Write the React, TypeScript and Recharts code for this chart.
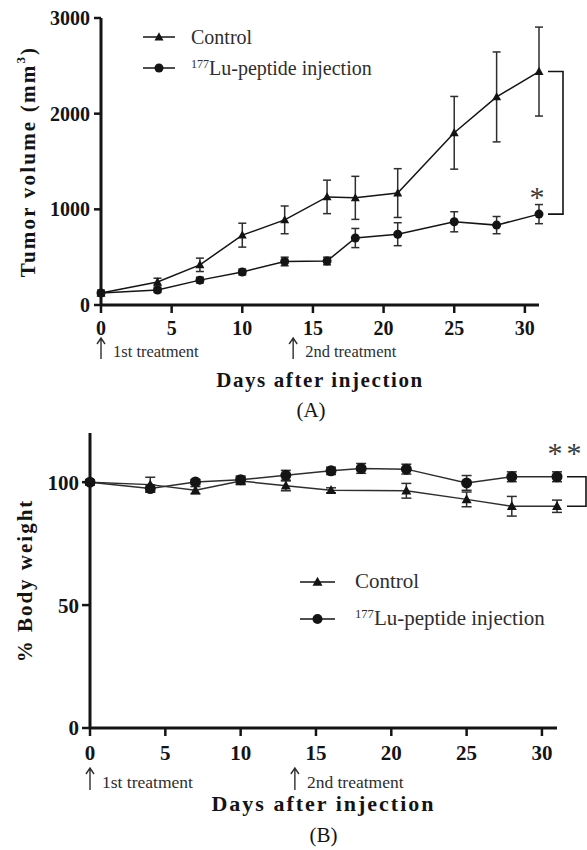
import { LineChart, Line, XAxis, YAxis, ErrorBar, Legend, ReferenceDot, ReferenceLine } from 'recharts'

const FONT = '"Liberation Serif", "Times New Roman", serif'
const INK = '#141414'
const SOFT = '#2e2e2e'

// (A) tumour volume, mm3
const volDays = [0, 4, 7, 10, 13, 16, 18, 21, 25, 28, 31]
const volControl = [125, 240, 420, 730, 890, 1130, 1120, 1170, 1800, 2175, 2440]
const volControlErr = [30, 40, 70, 125, 145, 175, 225, 255, 380, 470, 465]
const volLu = [125, 157, 260, 345, 455, 460, 700, 740, 870, 835, 950]
const volLuErr = [20, 25, 30, 30, 45, 40, 100, 120, 105, 90, 100]
const volTicks = [0, 1000, 2000, 3000]

// (B) % body weight
const bwControlDays = [0, 4, 7, 10, 13, 16, 21, 25, 28, 31]
const bwControl = [100, 99, 96.7, 100.5, 98.5, 96.7, 96.5, 93, 90.2, 90.2]
const bwControlErr = [1, 3, 1.5, 1.5, 2, 1, 3, 3, 4, 2.5]
const bwLuDays = [0, 4, 7, 10, 13, 16, 18, 21, 25, 28, 31]
const bwLu = [100, 97.4, 100.1, 101, 102.8, 104.6, 105.6, 105.3, 99.7, 102.2, 102.2]
const bwLuErr = [1, 1.5, 1, 1.5, 2, 1.5, 2, 2, 3, 2, 2]
const bwTicks = [0, 50, 100]

const dayTicks = [0, 5, 10, 15, 20, 25, 30]
const treatments = [
  { day: 0, label: '1st treatment' },
  { day: 13.6, label: '2nd treatment' },
]

type Row = { day: number; v: number; err: number }
const toRows = (days: number[], vals: number[], errs: number[]): Row[] =>
  days.map((day, i) => ({ day, v: vals[i], err: errs[i] }))

const volControlRows = toRows(volDays, volControl, volControlErr)
const volLuRows = toRows(volDays, volLu, volLuErr)
const bwControlRows = toRows(bwControlDays, bwControl, bwControlErr)
const bwLuRows = toRows(bwLuDays, bwLu, bwLuErr)

function Marker({ kind, cx, cy, size }: { kind: string; cx: number; cy: number; size: number }) {
  if (kind === 'triangle') {
    const h = size / 2
    return (
      <polygon
        points={`${cx},${cy - h * 1.05} ${cx + h},${cy + h * 0.75} ${cx - h},${cy + h * 0.75}`}
        fill={INK}
      />
    )
  }
  return <circle cx={cx} cy={cy} r={size / 2} fill={INK} />
}

const dotOf = (kind: string, size: number) => (p: any) => (
  <g key={`${kind}-${p.index}`}>
    {p.cx != null && p.cy != null && <Marker kind={kind} cx={p.cx} cy={p.cy} size={size} />}
  </g>
)

function LegendBox({ rowH, fontSize, symW, gap, size }: any) {
  const items = [
    { kind: 'triangle', text: <>Control</> },
    {
      kind: 'circle',
      text: (
        <>
          <span style={{ fontSize: '0.6em', position: 'relative', top: '-0.55em' }}>177</span>
          Lu-peptide injection
        </>
      ),
    },
  ]
  return (
    <div style={{ fontFamily: FONT, fontSize, color: SOFT, lineHeight: 1 }}>
      {items.map((it) => (
        <div key={it.kind} style={{ display: 'flex', alignItems: 'center', height: rowH, whiteSpace: 'nowrap' }}>
          <svg width={symW} height={14} style={{ marginRight: gap }}>
            <line x1={0} y1={7} x2={symW} y2={7} stroke={INK} strokeWidth={1.5} />
            <Marker kind={it.kind} cx={symW / 2} cy={7} size={size} />
          </svg>
          <span>{it.text}</span>
        </div>
      ))}
    </div>
  )
}

const treatmentShape = (label: string, head: number, tail: number, textMid: number, fontSize: number) => (p: any) => (
  <g>
    <path
      d={`M${p.cx},${p.cy + head} L${p.cx},${p.cy + tail} M${p.cx - 4},${p.cy + head + 6} L${p.cx},${p.cy + head} L${p.cx + 4},${p.cy + head + 6}`}
      stroke={SOFT}
      strokeWidth={1.4}
      fill="none"
    />
    <text x={p.cx + 12} y={p.cy + textMid} dominantBaseline="central" fontFamily={FONT} fontSize={fontSize} fill={SOFT}>
      {label}
    </text>
  </g>
)

const bracketShape = (near: number, far: number, stars: string, starDx: number, starRise: number, starSize: number) => (p: any) => {
  const { x1, y1, y2 } = p
  return (
    <g>
      <path d={`M${x1 + near},${y1} H${x1 + far} V${y2} H${x1 + near}`} stroke={INK} strokeWidth={1.6} fill="none" />
      <text
        x={x1 + starDx}
        y={y2 - starRise + starSize * 0.5}
        textAnchor="middle"
        fontFamily={FONT}
        fontSize={starSize}
        letterSpacing={4}
        fill="#3a3a3a"
      >
        {stars}
      </text>
    </g>
  )
}

const xTitle = (title: string, panel: string, panelDx: number, panelMid: number, fontSize: number, spacing: number) => (p: any) => {
  const vb = p.viewBox
  const cx = vb.x + vb.width / 2
  return (
    <g fontFamily={FONT} fill={INK}>
      <text x={cx} y={vb.y + 75} textAnchor="middle" dominantBaseline="central" fontSize={fontSize} fontWeight={700} letterSpacing={spacing}>
        {title}
      </text>
      <text x={cx + panelDx} y={vb.y + panelMid} textAnchor="middle" dominantBaseline="central" fontSize={21}>
        {panel}
      </text>
    </g>
  )
}

const yTitle = (cx: number, fontSize: number, spacing: number, sup: boolean, title: string) => (p: any) => {
  const vb = p.viewBox
  const cy = vb.y + vb.height / 2
  return (
    <text
      x={cx}
      y={cy}
      transform={`rotate(-90 ${cx} ${cy})`}
      textAnchor="middle"
      dominantBaseline="central"
      fontFamily={FONT}
      fontSize={fontSize}
      fontWeight={700}
      letterSpacing={spacing}
      fill={INK}
    >
      {title}
      {sup && (
        <>
          <tspan dy={-8} fontSize={13}>3</tspan>
          <tspan dy={8}>)</tspan>
        </>
      )}
    </text>
  )
}

const axisLine = { stroke: INK, strokeWidth: 3 }
const tickLine = { stroke: INK, strokeWidth: 2.5 }

export default function App() {
  return (
    <div style={{ position: 'absolute', left: 0, top: 0, width: 587, height: 850, background: '#fff' }}>
      <div style={{ position: 'absolute', left: 0, top: 0 }}>
        <LineChart width={587} height={430} margin={{ top: 18, right: 48, bottom: 0, left: 0 }}>
          <XAxis
            dataKey="day"
            type="number"
            domain={[0, 31]}
            ticks={dayTicks}
            axisLine={axisLine}
            tickLine={tickLine}
            tickSize={8}
            tickMargin={8}
            tick={{ fill: INK, fontSize: 20, fontWeight: 700, fontFamily: FONT }}
            height={125}
            label={xTitle('Days after injection', '(A)', -9, 105, 21, 1.6)}
          />
          <YAxis
            type="number"
            domain={[0, 3000]}
            ticks={volTicks}
            axisLine={axisLine}
            tickLine={tickLine}
            tickSize={7}
            tickMargin={4}
            tick={{ fill: INK, fontSize: 20, fontWeight: 700, fontFamily: FONT }}
            width={101}
            label={yTitle(28, 21, 2.2, true, 'Tumor volume (mm')}
          />
          <Legend
            layout="vertical"
            align="center"
            verticalAlign="middle"
            wrapperStyle={{ top: 21, left: 143, width: 300 }}
            content={() => <LegendBox rowH={31} fontSize={20} symW={32} gap={16} size={9} />}
          />
          <Line data={volControlRows} dataKey="v" name="Control" stroke={INK} strokeWidth={1.5} dot={dotOf('triangle', 9)} isAnimationActive={false}>
            <ErrorBar dataKey="err" width={4} stroke={SOFT} strokeWidth={1.5} direction="y" />
          </Line>
          <Line data={volLuRows} dataKey="v" name="177Lu-peptide injection" stroke={INK} strokeWidth={1.5} dot={dotOf('circle', 9)} isAnimationActive={false}>
            <ErrorBar dataKey="err" width={4} stroke={SOFT} strokeWidth={1.5} direction="y" />
          </Line>
          {treatments.map((t) => (
            <ReferenceDot key={t.label} x={t.day} y={0} r={0} shape={treatmentShape(t.label, 33, 54, 46, 16.5)} />
          ))}
          <ReferenceLine
            segment={[
              { x: 31, y: volControl[volControl.length - 1] },
              { x: 31, y: volLu[volLu.length - 1] },
            ]}
            shape={bracketShape(9, 24, '*', 0, 22, 30)}
          />
        </LineChart>
      </div>

      <div style={{ position: 'absolute', left: 0, top: 420 }}>
        <LineChart width={587} height={430} margin={{ top: 13, right: 30, bottom: 0, left: 0 }}>
          <XAxis
            dataKey="day"
            type="number"
            domain={[0, 31]}
            ticks={dayTicks}
            axisLine={axisLine}
            tickLine={tickLine}
            tickSize={8}
            tickMargin={9}
            tick={{ fill: INK, fontSize: 21, fontWeight: 700, fontFamily: FONT }}
            height={122}
            label={xTitle('Days after injection', '(B)', 0, 107, 22, 2)}
          />
          <YAxis
            type="number"
            domain={[0, 120]}
            ticks={bwTicks}
            axisLine={axisLine}
            tickLine={tickLine}
            tickSize={8}
            tickMargin={3}
            tick={{ fill: INK, fontSize: 21, fontWeight: 700, fontFamily: FONT }}
            width={90}
            label={yTitle(25, 21, 2, false, '% Body weight')}
          />
          <Legend
            layout="vertical"
            align="center"
            verticalAlign="middle"
            wrapperStyle={{ top: 143, left: 300, width: 287 }}
            content={() => <LegendBox rowH={37} fontSize={21} symW={35} gap={20} size={10} />}
          />
          <Line data={bwControlRows} dataKey="v" name="Control" stroke={SOFT} strokeWidth={1.5} dot={dotOf('triangle', 10)} isAnimationActive={false}>
            <ErrorBar dataKey="err" width={5} stroke={SOFT} strokeWidth={1.5} direction="y" />
          </Line>
          <Line data={bwLuRows} dataKey="v" name="177Lu-peptide injection" stroke={SOFT} strokeWidth={1.5} dot={dotOf('circle', 11)} isAnimationActive={false}>
            <ErrorBar dataKey="err" width={5} stroke={SOFT} strokeWidth={1.5} direction="y" />
          </Line>
          {treatments.map((t) => (
            <ReferenceDot key={t.label} x={t.day} y={0} r={0} shape={treatmentShape(t.label, 40, 62, 54, 17.5)} />
          ))}
          <ReferenceLine
            segment={[
              { x: 31, y: bwControl[bwControl.length - 1] },
              { x: 31, y: bwLu[bwLu.length - 1] },
            ]}
            shape={bracketShape(10, 29, '**', 9.5, 29, 30)}
          />
        </LineChart>
      </div>
    </div>
  )
}
